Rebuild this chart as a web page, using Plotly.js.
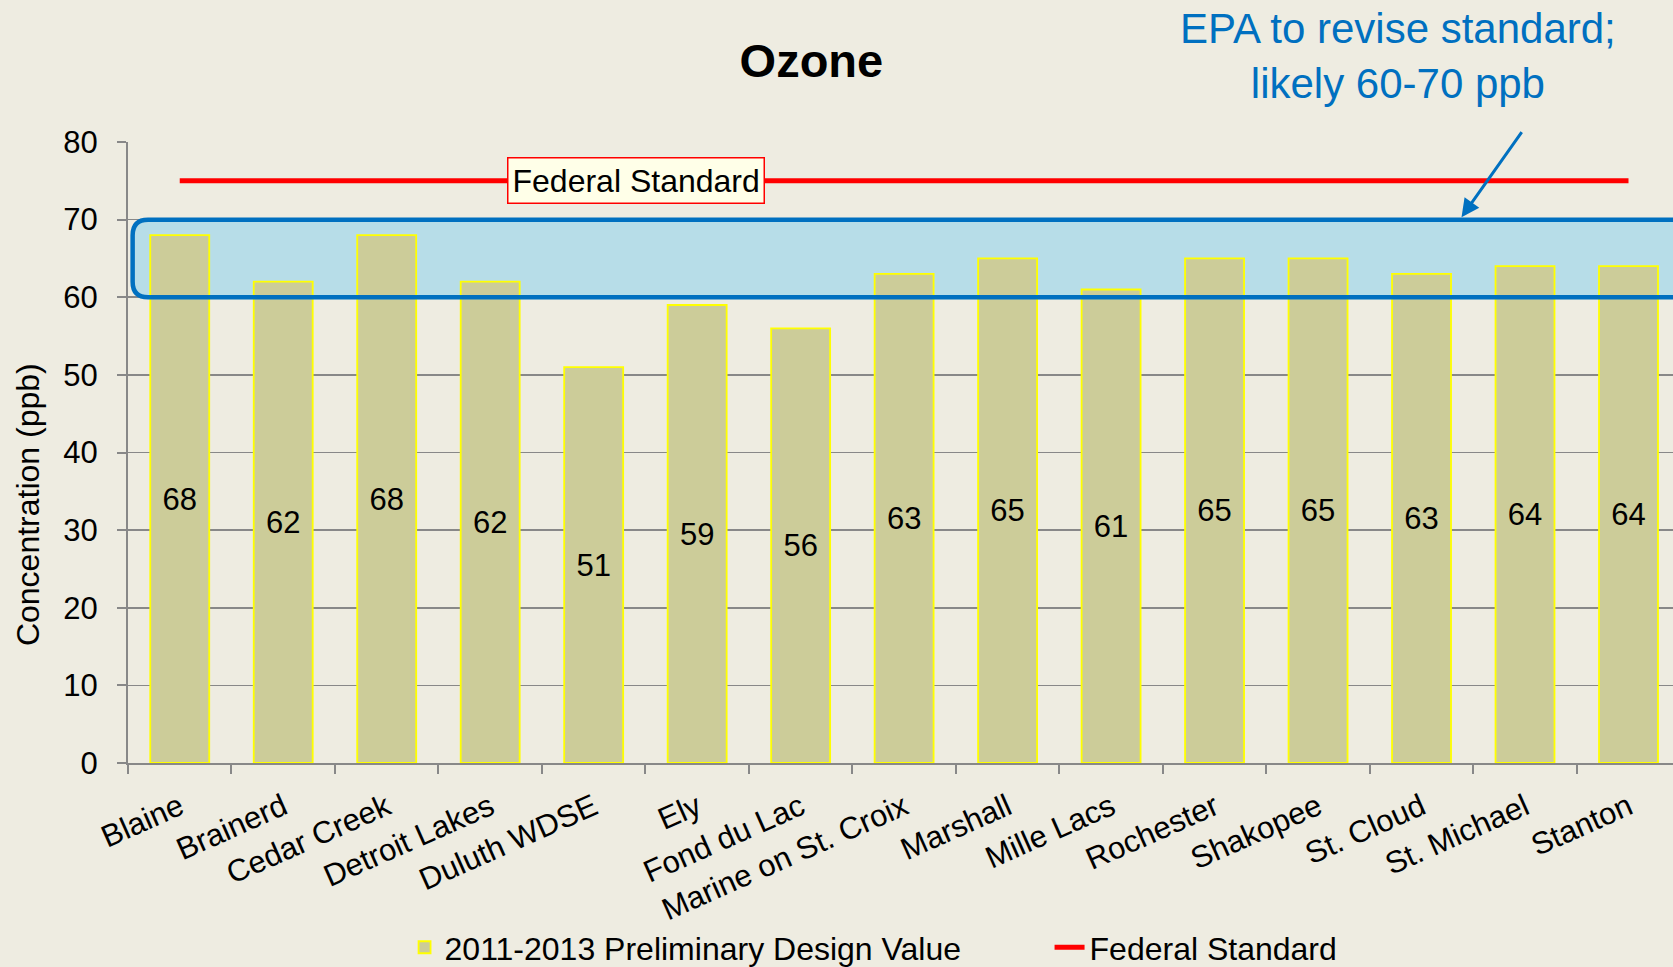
<!DOCTYPE html>
<html>
<head>
<meta charset="utf-8">
<script src="https://cdn.plot.ly/plotly-3.0.1.min.js"></script>
<style>
html,body{margin:0;padding:0;background:#EEECE1;}
#chart{width:1673px;height:967px;}
</style>
</head>
<body>
<div id="chart"></div>
<script>
const categories = ["Blaine","Brainerd","Cedar Creek","Detroit Lakes","Duluth WDSE","Ely","Fond du Lac","Marine on St. Croix","Marshall","Mille Lacs","Rochester","Shakopee","St. Cloud","St. Michael","Stanton"];
const designValues = [68,62,68,62,51,59,56,63,65,61,65,65,63,64,64];
const federalStandard = [75,75,75,75,75,75,75,75,75,75,75,75,75,75,75];
const yTickValues = [0,10,20,30,40,50,60,70,80];
const seriesNames = ["2011-2013 Preliminary Design Value","Federal Standard"];
const proposedRange = [60,70];

const FONT = "Liberation Sans, Arial, sans-serif";

const traces = [
  {
    type: "bar",
    name: seriesNames[0],
    x: categories,
    y: designValues,
    text: designValues.map(String),
    textposition: "inside",
    insidetextanchor: "middle",
    textangle: 0,
    textfont: {family: FONT, size: 31, color: "#000000"},
    marker: {color: "#CCCC99", line: {color: "#FFFF00", width: 1.8}},
    hoverinfo: "skip"
  },
  {
    type: "scatter",
    mode: "lines",
    name: seriesNames[1],
    x: categories,
    y: federalStandard,
    line: {color: "#FF0000", width: 5},
    hoverinfo: "skip"
  }
];

const rx = 0.01, ry = 2.0, x0 = 0.003, x1 = 1.02;
const lo = proposedRange[0], hi = proposedRange[1];
const boxPath = `M ${x0+rx},${hi} L ${x1},${hi} L ${x1},${lo} L ${x0+rx},${lo} Q ${x0},${lo} ${x0},${lo+ry} L ${x0},${hi-ry} Q ${x0},${hi} ${x0+rx},${hi} Z`;

const layout = {
  width: 1673,
  height: 967,
  paper_bgcolor: "#EEECE1",
  plot_bgcolor: "#EEECE1",
  margin: {l: 128, r: 0, t: 142, b: 204, pad: 0, autoexpand: false},
  font: {family: FONT, size: 31, color: "#000000"},
  bargap: 0.43,
  showlegend: true,
  title: {
    text: "<b>Ozone</b>",
    font: {family: FONT, size: 47, color: "#000000"},
    xref: "container", x: 0.485, xanchor: "center",
    yref: "container", y: 0.937, yanchor: "middle"
  },
  xaxis: {
    type: "category",
    range: [-0.5, 14.43],
    showgrid: false,
    showline: true, linecolor: "#888888", linewidth: 2,
    ticks: "outside", tickson: "boundaries", ticklen: 9, tickcolor: "#888888", tickwidth: 2,
    tickangle: -24,
    ticklabelstandoff: 12,
    tickfont: {family: FONT, size: 31, color: "#000000"},
    fixedrange: true
  },
  yaxis: {
    range: [0, 80],
    tickvals: yTickValues,
    ticktext: yTickValues.map(String),
    showgrid: true, gridcolor: "#888888", gridwidth: 1.6,
    zeroline: false,
    showline: true, linecolor: "#888888", linewidth: 2,
    ticks: "outside", ticklen: 9, tickcolor: "#888888", tickwidth: 2,
    ticklabelstandoff: 13,
    tickfont: {family: FONT, size: 31, color: "#000000"},
    fixedrange: true
  },
  legend: {
    orientation: "h",
    x: 0.179, xanchor: "left",
    y: -0.297, yanchor: "middle",
    font: {family: FONT, size: 32, color: "#000000"},
    bgcolor: "rgba(0,0,0,0)",
    entrywidth: 600,
    traceorder: "normal"
  },
  shapes: [
    {type: "path", xref: "paper", yref: "y", path: boxPath, fillcolor: "#B7DDE8", line: {width: 0}, layer: "between"},
    {type: "path", xref: "paper", yref: "y", path: boxPath, fillcolor: "rgba(0,0,0,0)", line: {color: "#0070C0", width: 4.5}, layer: "above"}
  ],
  annotations: [
    {
      xref: "x", yref: "y", x: 4.41, y: federalStandard[0],
      text: "Federal Standard", showarrow: false,
      font: {family: FONT, size: 32, color: "#000000"},
      bgcolor: "#FFFFE8", bordercolor: "#FF0000", borderwidth: 1.5, borderpad: 4,
      xanchor: "center", yanchor: "middle"
    },
    {
      xref: "paper", yref: "paper", x: 0.822, y: 1.139,
      text: "EPA to revise standard;<br>likely 60-70 ppb", showarrow: false,
      font: {family: FONT, size: 42, color: "#0070C0"},
      xanchor: "center", yanchor: "middle", align: "center"
    },
    {
      xref: "paper", yref: "y", x: 0.862, y: proposedRange[1],
      text: "", showarrow: true, arrowhead: 2, arrowsize: 1.2, arrowwidth: 3, arrowcolor: "#0070C0",
      ax: 63, ay: -89, standoff: 3
    },
    {
      xref: "paper", yref: "y", x: -0.065, y: 33.3,
      text: "Concentration (ppb)", showarrow: false, textangle: -90,
      font: {family: FONT, size: 32, color: "#000000"},
      xanchor: "center", yanchor: "middle"
    }
  ]
};

Plotly.newPlot("chart", traces, layout, {displayModeBar: false, staticPlot: true});
</script>
</body>
</html>
